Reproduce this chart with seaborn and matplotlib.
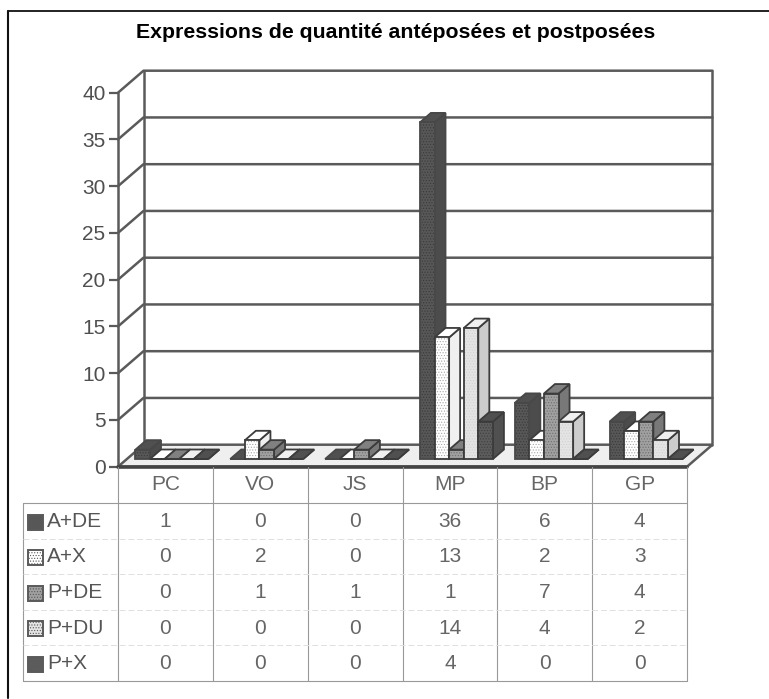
import matplotlib
matplotlib.use("Agg")
import matplotlib.pyplot as plt
from matplotlib.lines import Line2D
from matplotlib.patches import Polygon, Rectangle
import pandas as pd
import seaborn as sns

categories = ["PC", "VO", "JS", "MP", "BP", "GP"]
series = ["A+DE", "A+X", "P+DE", "P+DU", "P+X"]
a_de = [1, 0, 0, 36, 6, 4]
a_x = [0, 2, 0, 13, 2, 3]
p_de = [0, 1, 1, 1, 7, 4]
p_du = [0, 0, 0, 14, 4, 2]
p_x = [0, 0, 0, 4, 0, 0]
values = [a_de, a_x, p_de, p_du, p_x]

front = ["#575757", "#ffffff", "#a0a0a0", "#e4e4e4", "#5c5c5c"]
side = ["#4c4c4c", "#f0f0f0", "#787878", "#cccccc", "#505050"]
top = ["#505050", "#ffffff", "#808080", "#f0f0f0", "#505050"]
hatch_col = ["#3a3a3a", "#a8a8a8", "#707070", "#d2d2d2", "#404040"]
edge_col = ["#484848", "#3c3c3c", "#3c3c3c", "#3c3c3c", "#3c3c3c"]

W, H = 769, 699
INK = "#5a5a5a"

rows = []
for s, vals in zip(series, values):
    for c, v in zip(categories, vals):
        rows.append({"cat": c, "serie": s, "value": v})
df = pd.DataFrame(rows)

sns.set_theme(style="white")
plt.rcParams["font.family"] = ["Liberation Sans", "DejaVu Sans"]
plt.rcParams["hatch.linewidth"] = 0.5

fig = plt.figure(figsize=(W / 100, H / 100), dpi=100)
ax = fig.add_axes([118 / W, 1 - 466.7 / H, (687 - 118) / W, (466.7 - 92.7) / H])

sns.barplot(
    data=df, x="cat", y="value", hue="serie", order=categories, hue_order=series,
    palette=front, saturation=1, width=0.77, dodge=True, legend=False, ax=ax,
    edgecolor="#333333", linewidth=1,
)
ax.set_xlim(-0.5, 5.5)
ax.set_ylim(0, 40)

ux = (687 - 118) / 6      # px per category
uy = (466.7 - 92.7) / 40  # px per unit
wall_dx, wall_dy = 25.5 / ux, 22 / uy
shift_x, shift_y = 6.5 / ux, 7.7 / uy
bar_dx, bar_dy = 11 / ux, 9.5 / uy

# walls and floor
floor = Polygon([(-0.5, 0), (5.5, 0), (5.5 + wall_dx, wall_dy), (-0.5 + wall_dx, wall_dy)],
                closed=True, fc="#efefef", ec=INK, lw=1.8, zorder=1, clip_on=False)
ax.add_patch(floor)
for y in range(5, 45, 5):
    ax.plot([-0.5, -0.5 + wall_dx, 5.5 + wall_dx], [y, y + wall_dy, y + wall_dy],
            color=INK, lw=1.8, zorder=1, clip_on=False)
ax.plot([-0.5, -0.5], [0, 40], color=INK, lw=1.8, zorder=1, clip_on=False)
ax.plot([-0.5 + wall_dx] * 2, [wall_dy, 40 + wall_dy], color=INK, lw=1.8, zorder=1, clip_on=False)
ax.plot([5.5 + wall_dx] * 2, [wall_dy, 40 + wall_dy], color=INK, lw=1.8, zorder=1, clip_on=False)
ax.plot([-0.5, 5.5], [0, 0], color="#444444", lw=2.6, zorder=1.5, clip_on=False)

# give the flat bars their depth
bars = []
for i, cont in enumerate(ax.containers):
    for b in cont:
        bars.append((b.get_x(), i, b))
bars.sort(key=lambda t: t[0])

for n, (x, i, b) in enumerate(bars):
    w, h = b.get_width(), b.get_height()
    x = x + shift_x
    y = shift_y
    ec = edge_col[i]
    lw = 1.3
    b.set_x(x)
    b.set_y(y)
    b.set_zorder(3 + n * 0.1 + 0.02)
    b.set_edgecolor(hatch_col[i])
    b.set_linewidth(0)
    b.set_hatch("......")
    b.set_clip_on(False)
    ax.add_patch(Rectangle((x, y), w, h, fc="none", ec=ec, lw=lw,
                           zorder=3 + n * 0.1 + 0.03, clip_on=False))
    ax.add_patch(Polygon([(x + w, y), (x + w + bar_dx, y + bar_dy), (x + w + bar_dx, y + h + bar_dy), (x + w, y + h)],
                         closed=True, fc=side[i], ec=ec, lw=lw, zorder=3 + n * 0.1, clip_on=False))
    ax.add_patch(Polygon([(x, y + h), (x + w, y + h), (x + w + bar_dx, y + h + bar_dy), (x + bar_dx, y + h + bar_dy)],
                         closed=True, fc=top[i], ec=ec, lw=lw, zorder=3 + n * 0.1, clip_on=False))

ax.set_yticks(range(0, 45, 5))
ax.tick_params(axis="y", left=True, length=6.5, width=1.6, color=INK, labelsize=15,
               labelcolor="#4f4f4f", pad=2.5)
ax.set_xticks([])
ax.set_xlabel("")
ax.set_ylabel("")
sns.despine(ax=ax, left=True, bottom=True, top=True, right=True)
ax.patch.set_alpha(0)


def hline(x0, x1, y, color="#999999", lw=0.8, **kw):
    fig.add_artist(Line2D([x0 / W, x1 / W], [1 - y / H, 1 - y / H], color=color, lw=lw, **kw))


def vline(x, y0, y1, color="#999999", lw=0.8):
    fig.add_artist(Line2D([x / W, x / W], [1 - y0 / H, 1 - y1 / H], color=color, lw=lw))


# outer frame (only top and left are on the scan)
hline(8, 769, 11, color="#111111", lw=1.3)
vline(8, 11, 698, color="#111111", lw=1.5)

fig.text(396 / W, 1 - 32 / H, "Expressions de quantité antéposées et postposées",
         ha="center", va="center", fontsize=15.35, fontweight="bold", color="black")

# data table
for k in range(7):
    vline(118 + k * ux, 467, 681)
vline(23, 503, 681)
hline(23, 687, 503)
hline(23, 687, 681)
row_h = 35.5
for r in range(1, 5):
    hline(23, 687, 503 + r * row_h, color="#e0e0e0", lw=0.7, ls=(0, (6, 3)))

for j, c in enumerate(categories):
    fig.text((118 + (j + 0.5) * ux) / W, 1 - 485 / H, c, ha="center", va="center",
             fontsize=15, color="#666666")

for r, (s, vals) in enumerate(zip(series, values)):
    yc = 521.5 + r * row_h
    fig.add_artist(Rectangle((27.5 / W, 1 - (yc + 8) / H), 15 / W, 15 / H, transform=fig.transFigure,
                             fc=front[r], ec="#5a5a5a", lw=1.4, hatch="......"))
    fig.text(47 / W, 1 - yc / H, s, ha="left", va="center", fontsize=15, color="#555555")
    for j, v in enumerate(vals):
        fig.text((118 + (j + 0.5) * ux) / W, 1 - yc / H, str(v), ha="center", va="center",
                 fontsize=15, color="#666666")

fig.savefig("out.png", dpi=100)
